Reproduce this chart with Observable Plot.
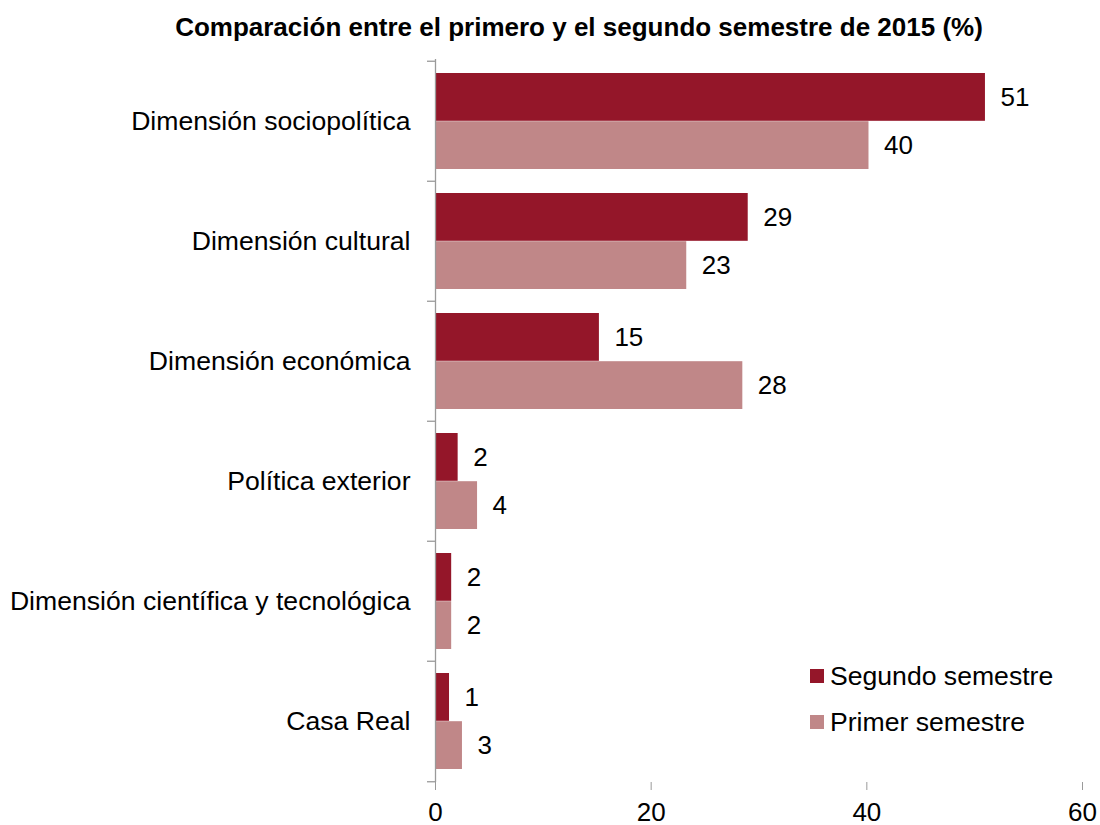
<!DOCTYPE html>
<html>
<head>
<meta charset="utf-8">
<script src="https://cdn.jsdelivr.net/npm/d3@7"></script>
<script src="https://cdn.jsdelivr.net/npm/@observablehq/plot@0.6"></script>
<style>
  body { margin: 0; background: #fff; font-family: "Liberation Sans", Arial, sans-serif; }
  #wrap { position: relative; width: 1100px; height: 825px; }
  #title { height: 50px; line-height: 54px; padding-left: 58px; width: 1042px; text-align: center;
           font-weight: bold; font-size: 26px; color: #000; white-space: nowrap; }
  #chart svg { display: block; overflow: visible; }
  .legend { position: absolute; left: 810px; font-size: 26.6px; color: #000; display: flex; align-items: center; line-height: 30px; }
  .legend span.sw { display: inline-block; width: 14px; height: 14px; margin-right: 6px; }
</style>
</head>
<body>
<div id="wrap">
  <div id="title">Comparación entre el primero y el segundo semestre de 2015 (%)</div>
  <div id="chart"></div>
  <div class="legend" style="top:661px"><span class="sw" style="background:#941629"></span>Segundo semestre</div>
  <div class="legend" style="top:707px"><span class="sw" style="background:#C08788"></span>Primer semestre</div>
</div>
<script>
const categories = [
  "Dimensión sociopolítica",
  "Dimensión cultural",
  "Dimensión económica",
  "Política exterior",
  "Dimensión científica y tecnológica",
  "Casa Real"
];
const segundo = [51, 29, 15.2, 2.1, 1.5, 1.3];
const primer = [40.2, 23.3, 28.5, 3.9, 1.5, 2.5];
const segundoLabels = ["51", "29", "15", "2", "2", "1"];
const primerLabels = ["40", "23", "28", "4", "2", "3"];
const xTicks = [0, 20, 40, 60];

const dark = "#941629";
const light = "#C08788";
const axisGray = "#9a9a9a";

const segData = categories.map((c, i) => ({cat: c, value: segundo[i], label: segundoLabels[i]}));
const priData = categories.map((c, i) => ({cat: c, value: primer[i], label: primerLabels[i]}));

const width = 1100, height = 775;
const marginTop = 9, marginBottom = 43, marginLeft = 435, marginRight = 18;
const step = (height - marginTop - marginBottom) / categories.length;
const bandw = step * 0.8;
const half = bandw / 2;
const fs = 26;

const chart = Plot.plot({
  width, height, marginTop, marginBottom, marginLeft, marginRight,
  style: {fontFamily: "'Liberation Sans', Arial, sans-serif", fontSize: fs + "px", color: "#000", background: "#fff", overflow: "visible"},
  x: {domain: [0, 60], ticks: xTicks, label: null},
  y: {domain: categories, paddingInner: 0.2, paddingOuter: 0.1, label: null},
  marks: [
    Plot.barX(segData, {y: "cat", x: "value", fill: dark, insetBottom: half}),
    Plot.barX(priData, {y: "cat", x: "value", fill: light, insetTop: half}),
    Plot.text(segData, {y: "cat", x: "value", text: "label", textAnchor: "start", dx: 15, dy: -half / 2, fontSize: fs, fill: "#000"}),
    Plot.text(priData, {y: "cat", x: "value", text: "label", textAnchor: "start", dx: 15, dy: half / 2, fontSize: fs, fill: "#000"}),
    Plot.axisX({ticks: xTicks, tickSize: 8, tickPadding: 12, stroke: axisGray, fill: "#000", fontSize: fs}),
    Plot.axisY({tickSize: 0, tickPadding: 25, fill: "#000", fontSize: 26.6}),
    Plot.ruleY(categories, {y: d => d, x1: 0, x2: 0, insetLeft: -8, dy: -step / 2, stroke: axisGray, strokeWidth: 1.3}),
    Plot.ruleY(categories.slice(-1), {y: d => d, x1: 0, x2: 0, insetLeft: -8, dy: step / 2, stroke: axisGray, strokeWidth: 1.3}),
    Plot.ruleX([0], {stroke: axisGray, strokeWidth: 1.3}),
    Plot.ruleY([0], {frameAnchor: "bottom", stroke: axisGray, strokeWidth: 1.3})
  ]
});
document.getElementById("chart").appendChild(chart);
</script>
</body>
</html>
